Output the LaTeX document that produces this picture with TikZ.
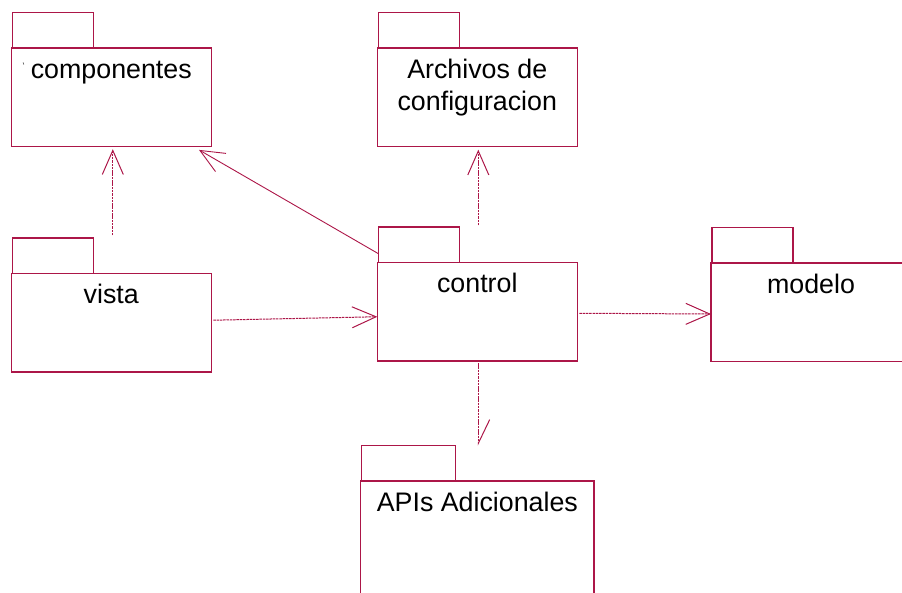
\documentclass[tikz,border=0pt]{standalone}
\usepackage{fontspec}
\setmainfont{Liberation Sans}
\usetikzlibrary{arrows.meta,calc}
\definecolor{umlline}{RGB}{172,22,72}
\begin{document}
\begin{tikzpicture}[x=1pt,y=-1pt,
  pkgbody/.style={draw=umlline, line width=1.2pt, fill=white, anchor=north west,
    inner sep=0pt, outer sep=0pt, minimum width=200pt, minimum height=98.5pt},
  pkgtab/.style={draw=umlline, line width=1.2pt, anchor=south west, inner sep=0pt,
    outer sep=0pt, minimum width=81pt, minimum height=35.5pt},
  pkglabel/.style={anchor=base, font=\fontsize{26.8}{32}\selectfont, inner sep=0pt, align=center},
  dep/.style={draw=umlline, line width=1pt, dash pattern=on 2.5pt off 0.8pt,
    -{Straight Barb[length=24pt,width=21pt]}},
  assoc/.style={draw=umlline, line width=0.9pt, -{Straight Barb[length=24pt,width=21pt]}}]
\useasboundingbox (0,0) rectangle (902,592);
\clip (0,0) rectangle (902,592);

% package bodies
\node[pkgbody] (comp) at (11.3,48) {};
\node[pkgbody] (vista) at (11.3,273.5) {};
\node[pkgbody] (arch) at (377.3,48) {};
\node[pkgbody] (ctl) at (377.3,262.5) {};
\node[pkgbody] (mod) at (711,263) {};
\node[pkgbody, minimum width=233.3pt, minimum height=130pt] (apis) at (360.7,481) {};

% package tabs
\node[pkgtab] (comp-tab) at ($(comp.north west)+(1,0)$) {};
\node[pkgtab] (vista-tab) at ($(vista.north west)+(1,0)$) {};
\node[pkgtab] (arch-tab) at ($(arch.north west)+(1,0)$) {};
\node[pkgtab] (ctl-tab) at ($(ctl.north west)+(1,0)$) {};
\node[pkgtab] (mod-tab) at ($(mod.north west)+(1,0)$) {};
\node[pkgtab, minimum width=94.5pt] (apis-tab) at ($(apis.north west)+(0.6,0)$) {};

% package names (base anchor sits on the last line)
\node[pkglabel] (comp-l) at ($(comp.north)+(0,30)$) {componentes};
\node[pkglabel] (vista-l) at ($(vista.north)+(0,30)$) {vista};
\node[pkglabel] (arch-l) at ($(arch.north)+(0,62)$) {Archivos de\\configuracion};
\node[pkglabel] (ctl-l) at ($(ctl.north)+(0,30)$) {control};
\node[pkglabel] (mod-l) at ($(mod.north)+(0,30)$) {modelo};
\node[pkglabel] (apis-l) at ($(apis.north)+(0,30)$) {APIs Adicionales};
\draw[black!70, line width=0.5pt] (23,62.3) -- (23.8,64.6);

% dependencies
\draw[dep, shorten <=2.7pt, shorten >=2.7pt]
  ($(vista.north |- vista-tab.north)+(1.5,0)$) -- ($(comp.south)+(1.5,0)$);
\draw[assoc]
  ($(ctl-tab.south west)!0.25!(ctl-tab.north west)$) -- ($(comp.south east)+(-12.3,3.4)$);
\draw[dep, shorten <=2pt]
  ($(vista.east)+(0,-2.5)$) -- ($(ctl.west)+(0,5)$);
\draw[dep, shorten <=2pt]
  ($(ctl.east)+(0,1.5)$) -- ($(mod.west)+(0,1.75)$);
\draw[dep, shorten <=1.7pt, shorten >=3.2pt]
  ($(ctl.north |- ctl-tab.north)+(1,0)$) -- ($(arch.south)+(1,0)$);
\draw[draw=umlline, line width=1pt, dash pattern=on 2.5pt off 0.8pt,
    -{Straight Barb[left, length=23.7pt, width=22.8pt]}, shorten <=2pt]
  ($(ctl.south)+(1,0)$) -- ($(ctl.south |- apis-tab.north)+(1,0)$);
\end{tikzpicture}
\end{document}
